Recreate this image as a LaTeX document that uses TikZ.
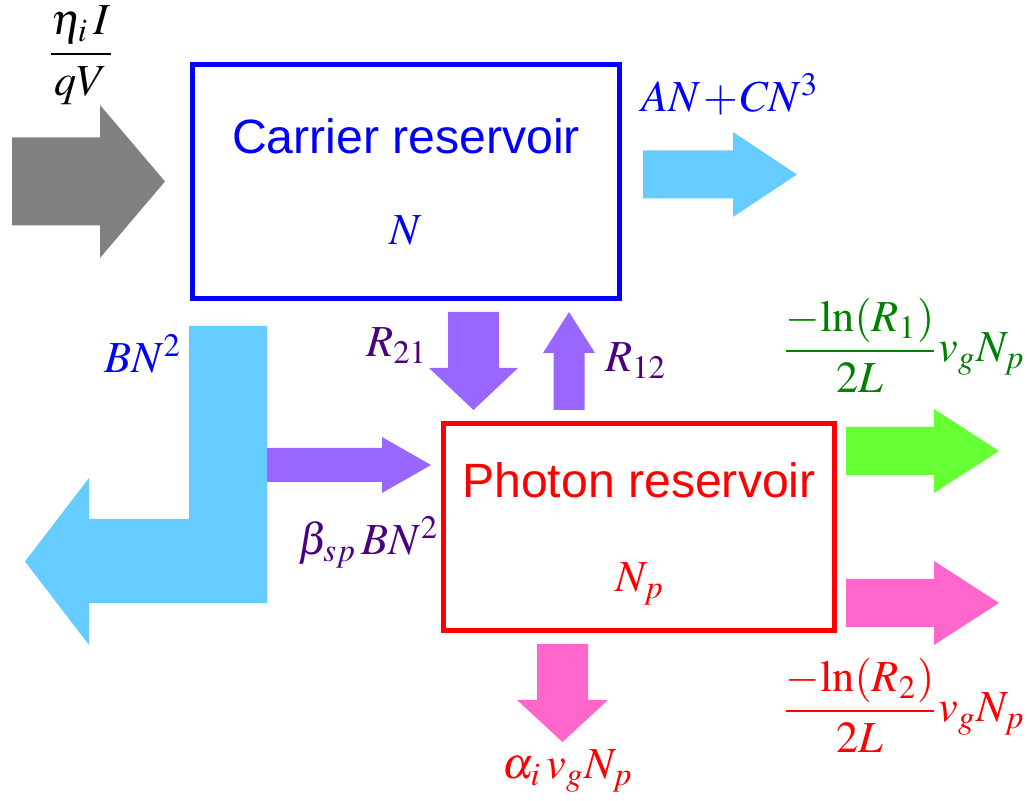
\documentclass[tikz,border=0pt]{standalone}
\usepackage{mathptmx}
\usepackage[no-math]{fontspec}
\setmainfont{Liberation Serif}
\setsansfont{Liberation Sans}
\usepackage{amsmath}
\usetikzlibrary{positioning}

\definecolor{carrierblue}{RGB}{0,0,255}
\definecolor{photonred}{RGB}{255,0,0}
\definecolor{inflowgray}{RGB}{128,128,128}
\definecolor{lossblue}{RGB}{102,204,255}
\definecolor{transfer}{RGB}{153,102,255}
\definecolor{transfertext}{RGB}{75,0,130}
\definecolor{mirrorgreen}{RGB}{102,255,51}
\definecolor{mirrortext}{RGB}{0,128,0}
\definecolor{losspink}{RGB}{255,102,204}

% block arrows: style, tail, head base, tip, centre, body half width, head half width
\newcommand{\blkhor}[7]{\fill[#1] (#2,#5-#6) -- (#3,#5-#6) -- (#3,#5-#7) -- (#4,#5) -- (#3,#5+#7) -- (#3,#5+#6) -- (#2,#5+#6) -- cycle;}
\newcommand{\blkver}[7]{\fill[#1] (#5-#6,#2) -- (#5-#6,#3) -- (#5-#7,#3) -- (#5,#4) -- (#5+#7,#3) -- (#5+#6,#3) -- (#5+#6,#2) -- cycle;}

\begin{document}
\begin{tikzpicture}[
    x=0.01cm, y=-0.01cm,
    reservoir/.style={rectangle, draw, line width=0.05cm, inner sep=0pt},
    title/.style={inner sep=0pt, font=\sffamily\fontsize{13.7}{16}\selectfont},
    lbl/.style={inner sep=0pt, font=\fontsize{12.6}{15}\selectfont},
]
    \useasboundingbox (0,0) rectangle (1027,801);

    % Reservoirs
    \node[reservoir, draw=carrierblue, minimum width=4.27cm, minimum height=2.34cm] (carrier) at (406,181.5) {};
    \node[title, text=carrierblue, anchor=base] (carriername) at (406,154) {Carrier reservoir};
    \node[lbl, text=carrierblue, anchor=base] (carrierN) at (406,245) {$N$};

    \node[reservoir, draw=photonred, minimum width=3.91cm, minimum height=2.06cm] (photon) at (639,527) {};
    \node[title, text=photonred, anchor=base] (photonname) at (639,498) {Photon reservoir};
    \node[lbl, text=photonred, anchor=base] (photonN) at (640,592) {$N_p$};

    % Injection and carrier losses
    \blkhor{inflowgray}{12}{100}{165}{181.5}{44}{76.5}
    \blkhor{lossblue}{643}{733}{797}{174.5}{24}{42.5}
    \fill[lossblue] (189,326) -- (267,326) -- (267,603) -- (89,603) -- (89,645)
        -- (25,561.5) -- (89,478) -- (89,519) -- (189,519) -- cycle;

    % Transfer between reservoirs
    \blkhor{transfer}{267}{382}{431}{465}{17}{28}
    \blkver{transfer}{312}{368}{410}{473.5}{25.5}{44.5}
    \blkver{transfer}{410}{353}{312}{569}{15.5}{26}

    % Photon losses
    \blkhor{mirrorgreen}{846}{934}{999}{451}{24}{42}
    \blkhor{losspink}{846}{934}{999}{603}{24}{42}
    \blkver{losspink}{644}{700}{742}{562.5}{25.5}{45.5}

    % Rates
    \node[lbl, anchor=base] (inject) at (81,65) {$\dfrac{\eta_i\, I}{qV}$};
    \node[lbl, text=carrierblue, anchor=base west] (nonrad) at (641,112) {$AN\mkern1mu{+}\mkern1mu CN^3$};
    \node[lbl, text=carrierblue, anchor=base] (spont) at (143,373) {$BN^2$};
    \node[lbl, text=transfertext, anchor=base] (betasp) at (369,555) {$\beta_{sp}\,BN^2$};
    \node[lbl, text=transfertext, anchor=base] (rtwoone) at (397,357) {$R_{21}$};
    \node[lbl, text=transfertext, anchor=base] (ronetwo) at (636,372) {$R_{12}$};
    \node[lbl, text=mirrortext, anchor=base east] (mirrorone) at (1026,362) {$\dfrac{{-}\!\ln(R_1)}{2L}v_gN_p$};
    \node[lbl, text=photonred, anchor=base east] (mirrortwo) at (1026,722) {$\dfrac{{-}\!\ln(R_2)}{2L}v_gN_p$};
    \node[lbl, text=photonred, anchor=base] (intloss) at (568,779) {$\alpha_i\, v_g N_p$};
\end{tikzpicture}
\end{document}
